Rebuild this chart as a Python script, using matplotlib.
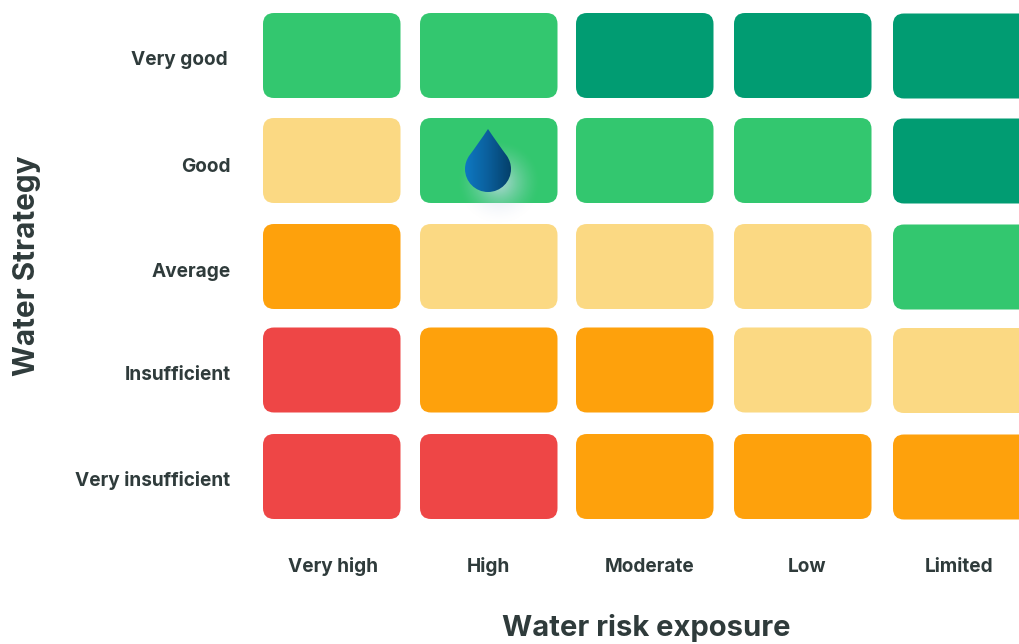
import numpy as np
import matplotlib
matplotlib.use("Agg")
import matplotlib.pyplot as plt
from matplotlib.colors import LinearSegmentedColormap
from matplotlib.patches import FancyBboxPatch, PathPatch
from matplotlib.path import Path

# Matrix content
strategy_levels = ["Very good", "Good", "Average", "Insufficient", "Very insufficient"]
exposure_levels = ["Very high", "High", "Moderate", "Low", "Limited"]
# Score per cell: 0 = red ... 4 = dark green
scores = [
    [3, 3, 4, 4, 4],
    [2, 3, 3, 3, 4],
    [1, 2, 2, 2, 3],
    [0, 1, 1, 2, 2],
    [0, 0, 1, 1, 1],
]
marker_cell = (1, 1)  # row, column of the droplet

score_colors = ["#EE4646", "#FEA10C", "#FBD983", "#33C76F", "#019C72"]
ink = "#2F3B3B"
FONT = "Inter"

# Layout, in figure pixels
col_left = [263, 420, 576, 734, 893]
row_top = [13, 118, 224, 327.5, 434]
cell_w, cell_h, corner = 137.5, 85, 11
row_label_y = [60, 167, 272, 375, 480]
row_label_right = [228, 230.5, 230.5, 230.5, 230.5]
col_label_x = [333.5, 488.5, 649.5, 807.5, 959.5]

fig = plt.figure(figsize=(10.2, 6.44), dpi=100)
ax = fig.add_axes([0, 0, 1, 1])
ax.set_xlim(0, 1020)
ax.set_ylim(644, 0)
ax.axis("off")

for r, row in enumerate(scores):
    for c, score in enumerate(row):
        # Cells in the rightmost column sit half a pixel lower
        top = row_top[r] + (0.5 if c == 4 else 0)
        ax.add_patch(FancyBboxPatch(
            (col_left[c] + corner, top + corner),
            cell_w - 2 * corner, cell_h - 2 * corner,
            boxstyle=f"round,pad={corner},rounding_size={corner}",
            fc=score_colors[score], ec="none", zorder=1))

for name, y, right in zip(strategy_levels, row_label_y, row_label_right):
    ax.text(right, y, name, ha="right", va="center", fontsize=13.7,
            fontweight="bold", family=FONT, color=ink)
for name, x in zip(exposure_levels, col_label_x):
    ax.text(x, 567, name, ha="center", va="center", fontsize=13.7,
            fontweight="bold", family=FONT, color=ink)
ax.text(646.5, 628, "Water risk exposure", ha="center", va="center", fontsize=21,
        fontweight="bold", family=FONT, color=ink)
ax.text(27, 266, "Water Strategy", ha="center", va="center", rotation=90, fontsize=21.4,
        fontweight="bold", family=FONT, color=ink)

# Droplet centred on the cell column, with a soft glow behind it
cx = 488
cy = 169
rad = 23

gx, gy = np.meshgrid(np.linspace(cx - 60, cx + 80, 200), np.linspace(cy - 60, cy + 70, 200))
dist = np.hypot(gx - (cx + 11), gy - (cy + 13)) / 42
glow = np.zeros(gx.shape + (4,))
glow[..., :3] = (0.80, 0.86, 0.93)
glow[..., 3] = 0.85 * np.clip(1 - dist, 0, 1) ** 1.5
ax.imshow(glow, extent=[gx.min(), gx.max(), gy.max(), gy.min()],
          interpolation="bilinear", zorder=2, aspect="auto")

k = 0.5523 * rad
verts = [
    (cx, cy - 40),
    (cx - 6, cy - 31), (cx - 13, cy - 21), (cx - 19, cy - 13),
    (cx - 21.5, cy - 9), (cx - rad, cy - 5), (cx - rad, cy),
    (cx - rad, cy + k), (cx - k, cy + rad), (cx, cy + rad),
    (cx + k, cy + rad), (cx + rad, cy + k), (cx + rad, cy),
    (cx + rad, cy - 5), (cx + 21.5, cy - 9), (cx + 19, cy - 13),
    (cx + 13, cy - 21), (cx + 6, cy - 31), (cx, cy - 40),
]
codes = [Path.MOVETO] + [Path.CURVE4] * 18
drop = PathPatch(Path(verts, codes), fc="none", ec="none", zorder=3)
ax.add_patch(drop)
cmap = LinearSegmentedColormap.from_list("drop", ["#0E78C2", "#0B5F9C", "#04406A"])
shade = ax.imshow(np.linspace(0, 1, 128)[None, :], cmap=cmap, aspect="auto",
                  extent=[cx - rad, cx + rad, cy + rad, cy - 40], zorder=3)
shade.set_clip_path(drop)

ax.set_xlim(0, 1020)
ax.set_ylim(644, 0)
fig.savefig("out.png", dpi=100, facecolor="white")
